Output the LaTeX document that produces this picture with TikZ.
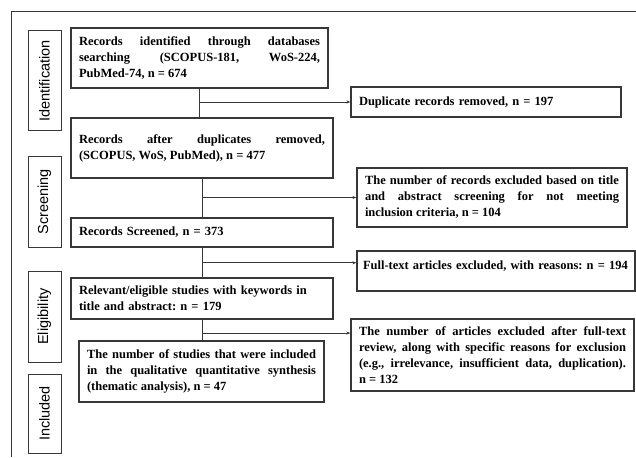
\documentclass[tikz,border=0pt]{standalone}
\usepackage{fontspec}
\setmainfont{Liberation Serif}
\newfontfamily\stagefont{Liberation Sans}
\usetikzlibrary{arrows.meta,calc}
\definecolor{LineGray}{RGB}{55,55,55}

\begin{document}
\begin{tikzpicture}[x=1pt,y=-1pt,
  box/.style={draw=LineGray, line width=1.2pt, inner xsep=8pt, inner ysep=3pt,
    font=\fontsize{12.5}{16}\selectfont\bfseries\frenchspacing, align=justify},
  stage/.style={draw=LineGray, line width=1pt, rotate=90, minimum height=33pt,
    inner sep=0pt, font=\stagefont\fontsize{14.5}{16}\selectfont},
  link/.style={draw=LineGray, line width=0.8pt},
  arr/.style={link, -{Stealth[length=4pt,width=3pt]}}]
\useasboundingbox (0,0) rectangle (636,457);

% Frame
\draw[LineGray, line width=1pt] (11,457) -- (11,12) -- (636,12);

% Stages
\node[stage, minimum width=100pt] (sIdent) at (44.5,81) {Identification};
\node[stage, minimum width=90pt] (sScreen) at (44.5,202) {Screening};
\node[stage, minimum width=91pt] (sElig) at (44.5,316.5) {Eligibility};
\node[stage, minimum width=79pt] (sIncl) at (44.5,413.5) {Included};

% Main flow
\node[box, text width=241pt, minimum height=60pt] (ident) at (199.5,58)
  {Records identified through databases\linebreak searching (SCOPUS-181, WoS-224,\linebreak PubMed-74, n = 674};
\node[box, text width=246pt, minimum height=60pt] (after) at (202,148)
  {Records after duplicates removed,\linebreak (SCOPUS, WoS, PubMed), n = 477};
\node[box, text width=246pt, minimum height=29pt, align=left] (screened) at (202,232.5)
  {Records Screened, n = 373};
\node[box, text width=246pt, minimum height=41pt, align=left] (elig) at (202,298.5)
  {Relevant/eligible studies with keywords in\\title and abstract: n = 179};
\node[box, text width=229pt, minimum height=61pt] (incl) at (201.5,371.5)
  {The number of studies that were included\linebreak in the qualitative quantitative synthesis\linebreak (thematic analysis), n = 47};

% Exclusions
\node[box, text width=254pt, minimum height=30pt, align=left] (dup) at (486,102)
  {Duplicate records removed, n = 197};
\node[box, text width=254pt, minimum height=59pt] (exTitle) at (492,197.5)
  {The number of records excluded based on title\linebreak and abstract screening for not meeting\linebreak inclusion criteria, n = 104};
\node[box, text width=266pt, inner xsep=6pt, minimum height=40pt, text depth=12pt, align=left] (exFull) at (496,271)
  {Full-text articles excluded, with reasons: n = 194};
\node[box, text width=267pt, minimum height=72pt] (exReview) at (492.5,355)
  {The number of articles excluded after full-text\linebreak review, along with specific reasons for exclusion\linebreak (e.g., irrelevance, insufficient data, duplication).\linebreak n = 132};

\coordinate (inFull) at ($(exFull.north west)!0.3!(exFull.south west)$);
\coordinate (inReview) at ($(exReview.north west)!0.2!(exReview.south west)$);

% Connectors
\draw[link] (ident.south) -- (ident.south |- after.north);
\draw[arr] (ident.south |- dup.west) -- (dup.west);
\draw[link] (after.south) -- (after.south |- screened.north);
\draw[arr] (after.south |- exTitle.west) -- (exTitle.west);
\draw[link] (screened.south) -- (screened.south |- elig.north);
\draw[arr] (screened.south |- inFull) -- (inFull);
\draw[link] (elig.south) -- (elig.south |- incl.north);
\draw[arr] (elig.south |- inReview) -- (inReview);
\end{tikzpicture}
\end{document}
